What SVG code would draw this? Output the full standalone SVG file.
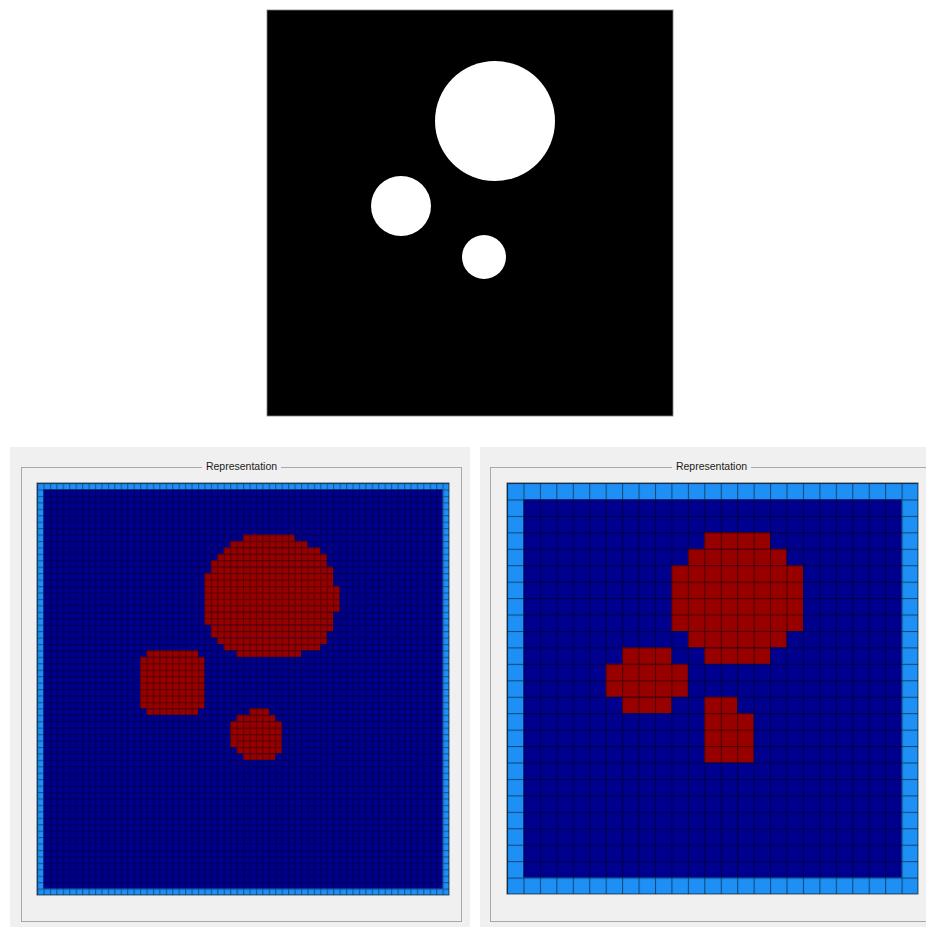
<svg xmlns="http://www.w3.org/2000/svg" width="926" height="927" viewBox="0 0 926 927">
<defs>
<style>
.panel{fill:#f0f0f0}
.gbox{fill:none;stroke:#a8a8a8;stroke-width:1}
.lbl{font-family:"Liberation Sans",Arial,sans-serif;font-size:10.5px;fill:#1a1a1a;text-anchor:middle}
.lb{fill:#1e90f5}
.db{fill:#00008e}
.rd{fill:#980000}
</style>
<pattern id="gL" patternUnits="userSpaceOnUse" width="1" height="1"><rect width="0.18" height="1" fill="#000" fill-opacity="0.38"/><rect x="0.18" width="0.82" height="0.18" fill="#000" fill-opacity="0.38"/></pattern>
<pattern id="gR" patternUnits="userSpaceOnUse" width="1" height="1"><rect width="0.065" height="1" fill="#000" fill-opacity="0.5"/><rect x="0.065" width="0.935" height="0.065" fill="#000" fill-opacity="0.5"/></pattern>
</defs>
<rect width="926" height="927" fill="#fff"/>
<g id="connectors"/>
<g id="source-image">
<rect x="267" y="10" width="406" height="406" fill="#000" stroke="#808080" stroke-width="0.8"/>
<circle cx="495" cy="121" r="60" fill="#fff"/>
<circle cx="401" cy="206" r="30" fill="#fff"/>
<circle cx="484" cy="257" r="22" fill="#fff"/>
</g>
<g id="panel-left">
<rect class="panel" x="10" y="447" width="460" height="480"/>
<rect class="gbox" x="21.5" y="467.5" width="440" height="454"/>
<rect class="panel" x="202" y="460" width="79" height="14"/>
<text class="lbl" x="241.5" y="470">Representation</text>
<g transform="translate(37,483) scale(6.4375)">
<rect class="lb" width="64" height="64"/>
<rect class="db" x="1" y="1" width="62" height="62"/>
<g class="rd">
<rect x="32" y="8" width="8" height="1"/>
<rect x="30" y="9" width="12" height="1"/>
<rect x="29" y="10" width="15" height="1"/>
<rect x="28" y="11" width="17" height="1"/>
<rect x="27" y="12" width="18" height="1"/>
<rect x="27" y="13" width="19" height="1"/>
<rect x="26" y="14" width="20" height="2"/>
<rect x="26" y="16" width="21" height="4"/>
<rect x="26" y="20" width="20" height="2"/>
<rect x="27" y="22" width="19" height="1"/>
<rect x="27" y="23" width="18" height="1"/>
<rect x="28" y="24" width="17" height="1"/>
<rect x="29" y="25" width="15" height="1"/>
<rect x="31" y="26" width="10" height="1"/>
<rect x="17" y="26" width="8" height="1"/>
<rect x="16" y="27" width="10" height="8"/>
<rect x="17" y="35" width="8" height="1"/>
<rect x="33" y="35" width="3" height="1"/>
<rect x="31" y="36" width="6" height="1"/>
<rect x="30" y="37" width="8" height="4"/>
<rect x="31" y="41" width="7" height="1"/>
<rect x="32" y="42" width="5" height="1"/>
</g>
<rect width="64" height="64" fill="url(#gL)"/>
<rect width="64" height="64" fill="none" stroke="#000" stroke-opacity="0.6" stroke-width="0.16"/>
</g>
</g>
<g id="panel-right">
<rect class="panel" x="480" y="447" width="446" height="480"/>
<rect class="gbox" x="490.5" y="467.5" width="450" height="454"/>
<rect class="panel" x="672" y="460" width="79" height="14"/>
<text class="lbl" x="711.5" y="470">Representation</text>
<g transform="translate(507,483) scale(16.44)">
<rect class="lb" width="25" height="25"/>
<rect class="db" x="1" y="1" width="23" height="23"/>
<g class="rd">
<rect x="12" y="3" width="4" height="1"/>
<rect x="11" y="4" width="6" height="1"/>
<rect x="10" y="5" width="8" height="4"/>
<rect x="11" y="9" width="6" height="1"/>
<rect x="12" y="10" width="4" height="1"/>
<rect x="7" y="10" width="3" height="1"/>
<rect x="6" y="11" width="5" height="2"/>
<rect x="7" y="13" width="3" height="1"/>
<rect x="12" y="13" width="2" height="1"/>
<rect x="12" y="14" width="3" height="3"/>
</g>
<rect width="25" height="25" fill="url(#gR)"/>
<rect width="25" height="25" fill="none" stroke="#000" stroke-opacity="0.6" stroke-width="0.065"/>
</g>
</g>
</svg>
